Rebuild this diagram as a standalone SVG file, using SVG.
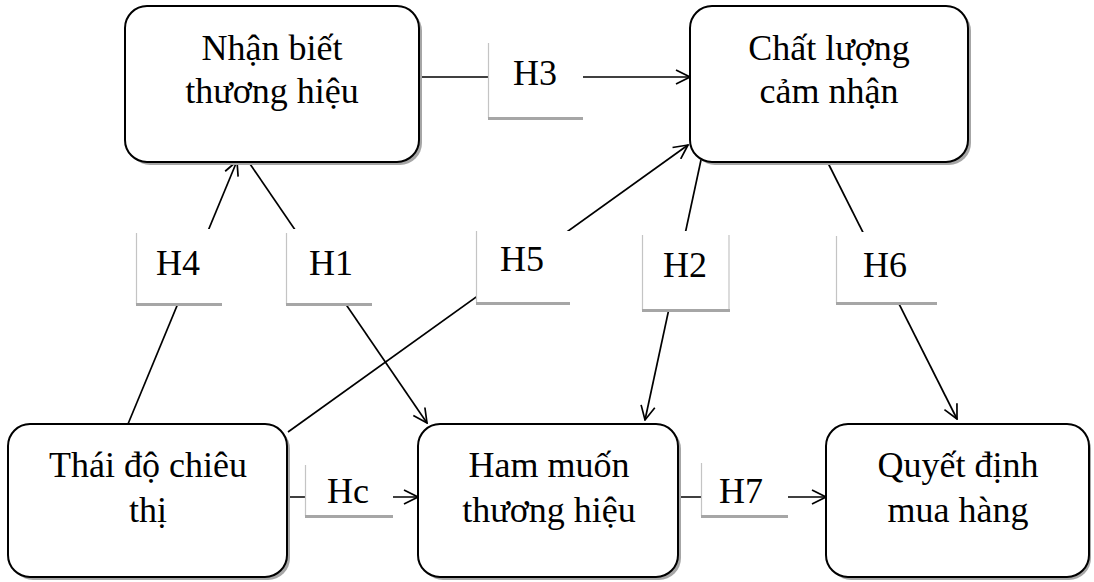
<svg xmlns="http://www.w3.org/2000/svg" width="1094" height="582" viewBox="0 0 1094 582">
  <defs>
    <marker id="arrow" markerUnits="userSpaceOnUse" viewBox="0 0 16 16" refX="15" refY="8" markerWidth="16" markerHeight="16" orient="auto">
      <path d="M1,1 L15,8 L1,15" fill="none" stroke="#000" stroke-width="1.7"/>
    </marker>
    <style>
      .node rect.box { fill: #fff; stroke: #000; stroke-width: 2; }
      .node rect.shadow { fill: #a6a6a6; stroke: none; }
      .node text, .label text { font-family: "Liberation Serif", "Times New Roman", serif; font-size: 36px; fill: #000; text-anchor: middle; }
      .label rect.bg { fill: #fff; stroke: none; }
      .label line.side { stroke: #c4c4c4; stroke-width: 1.2; }
      .label rect.base { fill: #a6a6a6; stroke: none; }
      .conn line { stroke: #000; stroke-width: 1.7; fill: none; }
    </style>
  </defs>
  <rect width="1094" height="582" fill="#fff"/>

  <!-- connectors -->
  <g id="connectors" class="conn">
    <line id="e-h3" x1="419" y1="77" x2="690" y2="77" marker-end="url(#arrow)"/>
    <line id="e-h4" x1="128" y1="424" x2="237" y2="161" marker-end="url(#arrow)"/>
    <line id="e-h1" x1="248" y1="161" x2="427" y2="423" marker-end="url(#arrow)"/>
    <line id="e-h5" x1="288" y1="432" x2="688" y2="145" marker-end="url(#arrow)"/>
    <line id="e-h2" x1="701" y1="160" x2="645" y2="420" marker-end="url(#arrow)"/>
    <line id="e-h6" x1="826" y1="159" x2="957" y2="419" marker-end="url(#arrow)"/>
    <line id="e-hc" x1="287" y1="497" x2="418" y2="497" marker-end="url(#arrow)"/>
    <line id="e-h7" x1="678" y1="497" x2="826" y2="497" marker-end="url(#arrow)"/>
  </g>

  <!-- edge labels -->
  <g id="label-h3" class="label">
    <rect class="bg" x="488" y="43" width="95" height="75"/>
    <line class="side" x1="488.5" y1="43" x2="488.5" y2="118"/>
    <rect class="base" x="488" y="117" width="95" height="3"/>
    <text x="535" y="85">H3</text>
  </g>
  <g id="label-h4" class="label">
    <rect class="bg" x="136" y="229" width="86" height="75"/>
    <line class="side" x1="136.5" y1="233" x2="136.5" y2="304"/>
    <rect class="base" x="136" y="303" width="86" height="3"/>
    <text x="178" y="275">H4</text>
  </g>
  <g id="label-h1" class="label">
    <rect class="bg" x="286" y="229" width="86" height="75"/>
    <line class="side" x1="286.5" y1="233" x2="286.5" y2="304"/>
    <rect class="base" x="286" y="303" width="86" height="3"/>
    <text x="331" y="275">H1</text>
  </g>
  <g id="label-h5" class="label">
    <rect class="bg" x="476" y="231" width="94" height="72"/>
    <line class="side" x1="476.5" y1="231" x2="476.5" y2="303"/>
    <rect class="base" x="476" y="302" width="94" height="3"/>
    <text x="522" y="271">H5</text>
  </g>
  <g id="label-h2" class="label">
    <rect class="bg" x="642" y="231" width="87" height="79"/>
    <line class="side" x1="642.5" y1="235" x2="642.5" y2="310"/>
    <line class="side" x1="729" y1="235" x2="729" y2="310"/>
    <rect class="base" x="642" y="309" width="88" height="3"/>
    <text x="685" y="277">H2</text>
  </g>
  <g id="label-h6" class="label">
    <rect class="bg" x="836" y="232" width="101" height="71"/>
    <line class="side" x1="836.5" y1="236" x2="836.5" y2="303"/>
    <rect class="base" x="836" y="302" width="101" height="3"/>
    <text x="885" y="277">H6</text>
  </g>
  <g id="label-hc" class="label">
    <rect class="bg" x="305" y="465" width="88" height="51"/>
    <line class="side" x1="305.5" y1="465" x2="305.5" y2="516"/>
    <rect class="base" x="305" y="515" width="88" height="3"/>
    <text x="348" y="503">Hc</text>
  </g>
  <g id="label-h7" class="label">
    <rect class="bg" x="701" y="463" width="87" height="53"/>
    <line class="side" x1="701.5" y1="463" x2="701.5" y2="516"/>
    <rect class="base" x="701" y="515" width="87" height="3"/>
    <text x="741" y="503">H7</text>
  </g>

  <!-- nodes -->
  <g id="node-nhan-biet" class="node">
    <rect class="shadow" x="128" y="9" width="294" height="156" rx="22"/>
    <rect class="box" x="125" y="6" width="294" height="156" rx="22"/>
    <text x="272" y="60">Nhận biết</text>
    <text x="272" y="103">thương hiệu</text>
  </g>
  <g id="node-chat-luong" class="node">
    <rect class="shadow" x="693" y="9" width="278" height="156" rx="22"/>
    <rect class="box" x="690" y="6" width="278" height="156" rx="22"/>
    <text x="829" y="60">Chất lượng</text>
    <text x="829" y="103">cảm nhận</text>
  </g>
  <g id="node-thai-do" class="node">
    <rect class="shadow" x="11" y="427" width="279" height="153" rx="22"/>
    <rect class="box" x="8" y="424" width="279" height="153" rx="22"/>
    <text x="148" y="477">Thái độ chiêu</text>
    <text x="148" y="522">thị</text>
  </g>
  <g id="node-ham-muon" class="node">
    <rect class="shadow" x="421" y="427" width="260" height="153" rx="22"/>
    <rect class="box" x="418" y="424" width="260" height="153" rx="22"/>
    <text x="549" y="477">Ham muốn</text>
    <text x="549" y="522">thương hiệu</text>
  </g>
  <g id="node-quyet-dinh" class="node">
    <rect class="shadow" x="829" y="427" width="262" height="153" rx="22"/>
    <rect class="box" x="826" y="424" width="263" height="153" rx="22"/>
    <text x="958" y="477">Quyết định</text>
    <text x="958" y="522">mua hàng</text>
  </g>
</svg>
